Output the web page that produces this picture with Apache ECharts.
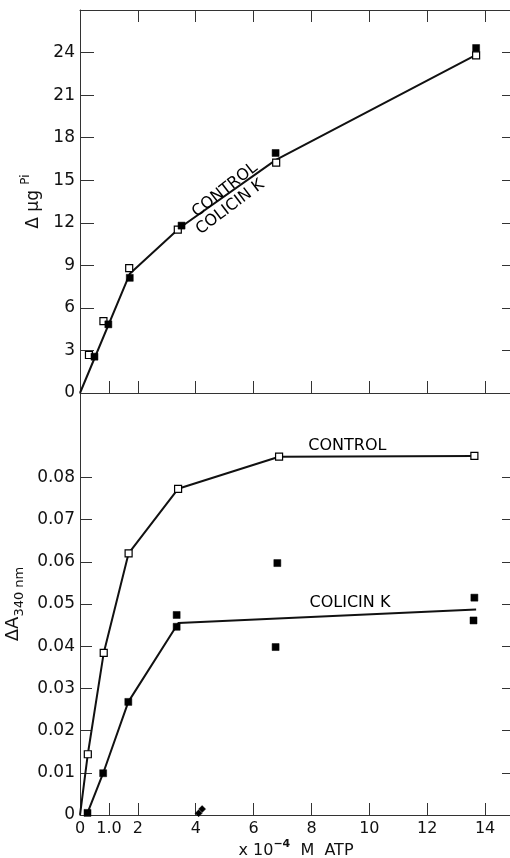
<!DOCTYPE html>
<html>
<head>
<meta charset="utf-8">
<script src="https://cdn.jsdelivr.net/npm/echarts@6/dist/echarts.min.js"></script>
<style>
  html, body { margin: 0; padding: 0; background: #fff; }
  #chart { width: 510px; height: 858px; }
</style>
</head>
<body>
<div id="chart"></div>
<script>
// top panel: delta ug Pi vs ATP (x 10^-4 M)
const piFitX = [0, 1.72, 3.45, 6.77, 13.69];
const piFitY = [0, 8.4, 11.65, 16.43, 23.83];
const piControlX = [0.31, 0.81, 1.70, 3.38, 6.78, 13.69];
const piControlY = [2.68, 5.07, 8.80, 11.52, 16.24, 23.8];
const piColicinX = [0.50, 0.98, 1.72, 3.51, 6.76, 13.69];
const piColicinY = [2.56, 4.84, 8.12, 11.80, 16.92, 24.32];

// bottom panel: delta A340
const absControlX = [0, 0.27, 0.82, 1.68, 3.39, 6.88, 13.63];
const absControlY = [0, 0.0144, 0.0384, 0.062, 0.0773, 0.0849, 0.0851];
const absColicinFitX = [0.26, 0.80, 1.67, 3.40, 13.69];
const absColicinFitY = [0.0005, 0.0099, 0.0268, 0.0455, 0.0487];
const absColicinX = [0.26, 0.80, 1.67, 3.34, 3.34, 6.82, 6.76, 13.63, 13.60];
const absColicinY = [0.0005, 0.0099, 0.0268, 0.0474, 0.0446, 0.0597, 0.0398, 0.0515, 0.0461];
const strayX = [4.10, 4.22];
const strayY = [0.0004, 0.0014];

// ticks / labels
const xTicksLow = [1, 2, 4, 6, 8, 10, 12, 14];
const xTicksTop = [2, 4, 6, 8, 10, 12, 14];
const xLabels = [0, 1, 2, 4, 6, 8, 10, 12, 14];
const piTicks = [0, 3, 6, 9, 12, 15, 18, 21, 24];
const absTicks = [0, 0.01, 0.02, 0.03, 0.04, 0.05, 0.06, 0.07, 0.08];

// line labels: text, x, y, rotation
const piNotes = [['CONTROL', 5.01, 14.3, 38], ['COLICIN K', 5.19, 13.1, 37]];
const absNotes = [['CONTROL', 9.24, 0.0874, 0], ['COLICIN K', 9.33, 0.0503, 0]];

const ink = '#111';
const axisInk = '#333';
const font = 'DejaVu Sans';

const zip = (xs, ys) => xs.map((x, i) => [x, ys[i]]);

function xAxisBase(grid, pos, ticks) {
  return {
    type: 'value', gridIndex: grid, position: pos, min: 0, max: 14.93,
    axisLine: { show: true, onZero: false, lineStyle: { color: axisInk, width: 1 } },
    axisTick: { show: true, inside: true, length: 12, customValues: ticks, lineStyle: { color: axisInk } },
    axisLabel: { show: false },
    splitLine: { show: false }
  };
}

function yAxisBase(grid, pos, max, ticks, len) {
  return {
    type: 'value', gridIndex: grid, position: pos, min: 0, max: max,
    axisLine: { show: pos === 'left', onZero: false, lineStyle: { color: axisInk, width: 1 } },
    axisTick: { show: true, inside: true, length: len, customValues: ticks, lineStyle: { color: axisInk } },
    axisLabel: { show: false },
    splitLine: { show: false }
  };
}

const chart = echarts.init(document.getElementById('chart'));

const xBottom = xAxisBase(1, 'bottom', xTicksLow);
xBottom.axisLabel = {
  show: true, customValues: xLabels, margin: 6, color: ink, fontFamily: font, fontSize: 16,
  formatter: v => (v === 1 ? '1.0' : String(v))
};
xBottom.name = '{t|x 10}{s|−4}{t|  M  ATP}';
xBottom.nameLocation = 'middle';
xBottom.nameGap = 24;
xBottom.nameTextStyle = {
  rich: {
    t: { fontFamily: font, fontSize: 16, color: ink, verticalAlign: 'bottom', lineHeight: 20 },
    s: { fontFamily: font, fontSize: 11, color: ink, fontWeight: 'bold', verticalAlign: 'top', lineHeight: 20 }
  }
};

const yPi = yAxisBase(0, 'left', 27, piTicks, 14);
yPi.axisLabel = { show: true, customValues: piTicks, margin: 5, color: ink, fontFamily: font, fontSize: 17 };
yPi.name = '{t|Δ μg }{s|Pi}';
yPi.nameLocation = 'middle';
yPi.nameGap = 38;
yPi.nameRotate = 90;
yPi.nameTextStyle = {
  rich: {
    t: { fontFamily: font, fontSize: 17, color: ink, verticalAlign: 'bottom', lineHeight: 22 },
    s: { fontFamily: font, fontSize: 12, color: ink, verticalAlign: 'top', lineHeight: 22 }
  }
};

const yAbs = yAxisBase(1, 'left', 0.1, absTicks, 12);
yAbs.axisLabel = {
  show: true, customValues: absTicks, margin: 5, color: ink, fontFamily: font, fontSize: 17,
  formatter: v => (v === 0 ? '0' : v.toFixed(2))
};
yAbs.name = '{t|ΔA}{s|340 nm}';
yAbs.nameLocation = 'middle';
yAbs.nameGap = 52;
yAbs.nameRotate = 90;
yAbs.nameTextStyle = {
  rich: {
    t: { fontFamily: font, fontSize: 18, color: ink, verticalAlign: 'top', lineHeight: 22 },
    s: { fontFamily: font, fontSize: 13, color: ink, verticalAlign: 'bottom', lineHeight: 22 }
  }
};

const openSq = { color: '#fff', borderColor: '#000', borderWidth: 1.2, opacity: 1 };
const fillSq = { color: '#000', borderColor: '#000', borderWidth: 0.5, opacity: 1 };

function notesSeries(x, y, notes) {
  return {
    type: 'scatter', xAxisIndex: x, yAxisIndex: y, symbolSize: 1, silent: true,
    itemStyle: { color: 'transparent', opacity: 1 }, z: 5,
    data: notes.map(n => ({
      value: [n[1], n[2]], name: n[0],
      label: { show: true, position: 'inside', formatter: '{b}', rotate: n[3],
               color: '#000', opacity: 1, fontFamily: font, fontSize: 16 }
    }))
  };
}

const option = {
  backgroundColor: '#fff',
  animation: false,
  grid: [
    { left: 80, top: 10, width: 432, height: 383, outerBoundsMode: 'none', containLabel: false },
    { left: 80, top: 393, width: 432, height: 422, outerBoundsMode: 'none', containLabel: false }
  ],
  xAxis: [
    xAxisBase(0, 'bottom', xTicksLow),
    xAxisBase(0, 'top', xTicksTop),
    xBottom
  ],
  yAxis: [
    yPi,
    yAxisBase(0, 'right', 27, piTicks.slice(1), 10),
    yAbs,
    yAxisBase(1, 'right', 0.1, absTicks.slice(1), 10)
  ],
  series: [
    {
      type: 'line', xAxisIndex: 0, yAxisIndex: 0, data: zip(piFitX, piFitY),
      showSymbol: false, lineStyle: { color: ink, width: 2 }, z: 2
    },
    {
      type: 'scatter', xAxisIndex: 0, yAxisIndex: 0, data: zip(piControlX, piControlY),
      symbol: 'rect', symbolSize: 7, itemStyle: openSq, z: 4
    },
    {
      type: 'scatter', xAxisIndex: 0, yAxisIndex: 0, data: zip(piColicinX, piColicinY),
      symbol: 'rect', symbolSize: 7, itemStyle: fillSq, z: 4
    },
    notesSeries(0, 0, piNotes),
    {
      type: 'line', xAxisIndex: 2, yAxisIndex: 2, data: zip(absControlX, absControlY),
      showSymbol: false, lineStyle: { color: ink, width: 2 }, z: 2
    },
    {
      type: 'scatter', xAxisIndex: 2, yAxisIndex: 2, data: zip(absControlX.slice(1), absControlY.slice(1)),
      symbol: 'rect', symbolSize: 7, itemStyle: openSq, z: 4
    },
    {
      type: 'line', xAxisIndex: 2, yAxisIndex: 2, data: zip(absColicinFitX, absColicinFitY),
      showSymbol: false, lineStyle: { color: ink, width: 2 }, z: 2
    },
    {
      type: 'scatter', xAxisIndex: 2, yAxisIndex: 2, data: zip(absColicinX, absColicinY),
      symbol: 'rect', symbolSize: 7, itemStyle: fillSq, z: 4
    },
    {
      type: 'scatter', xAxisIndex: 2, yAxisIndex: 2, data: zip(strayX, strayY),
      symbol: 'diamond', symbolSize: 7, itemStyle: fillSq, z: 4
    },
    notesSeries(2, 2, absNotes)
  ]
};

chart.setOption(option);
</script>
</body>
</html>
